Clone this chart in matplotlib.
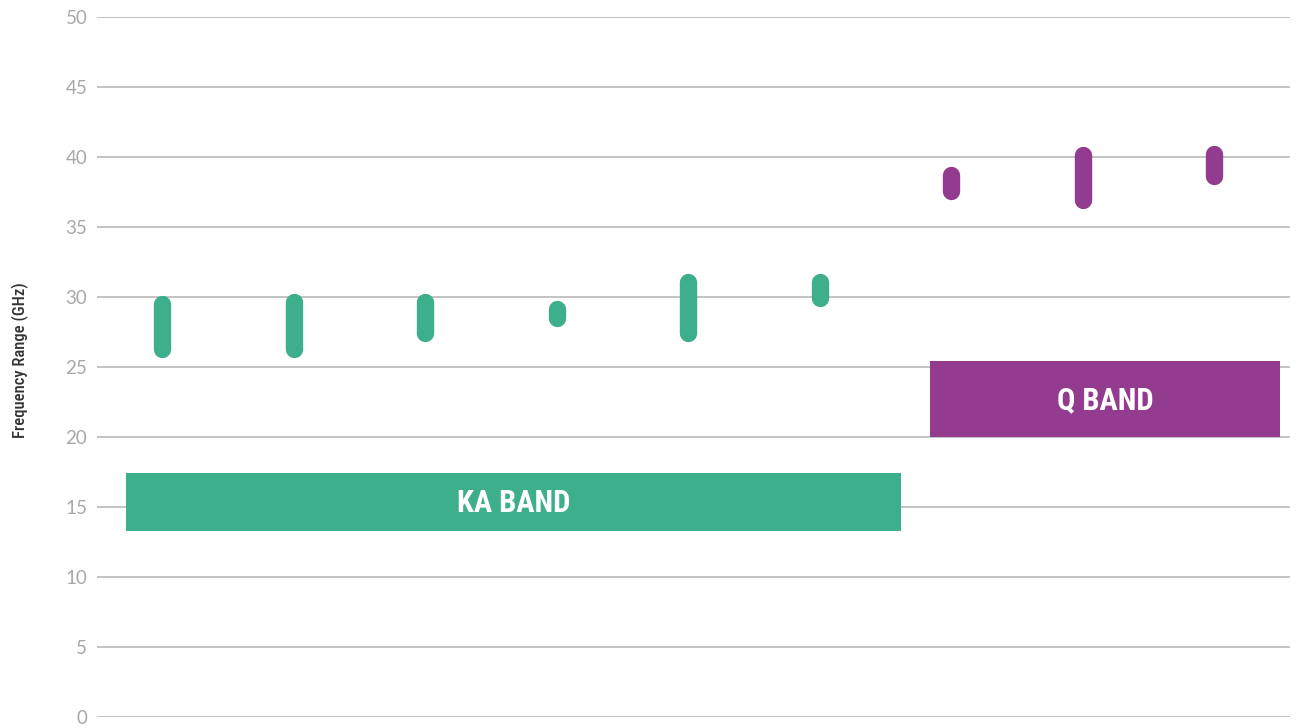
import matplotlib
matplotlib.use("Agg")
import matplotlib.pyplot as plt
from matplotlib.patches import Rectangle

# frequency ranges (GHz) of each item, drawn as rounded bars
ka_low = [26.3, 26.3, 27.4, 28.5, 27.4, 29.9]
ka_high = [29.5, 29.6, 29.6, 29.1, 31.05, 31.05]
q_low = [37.55, 36.9, 38.6]
q_high = [38.7, 40.1, 40.2]

# band boxes: x span (category units), y span (GHz)
ka_box_x = [-0.27, 5.62]
ka_box_y = [13.3, 17.4]
q_box_x = [5.84, 8.5]
q_box_y = [20.0, 25.4]

yticks = [0, 5, 10, 15, 20, 25, 30, 35, 40, 45, 50]

green = "#3daf8c"
purple = "#923b8f"
grid_c = "#b3b3b3"
narrow = ["Roboto Condensed", "DejaVu Sans"]

fig = plt.figure(figsize=(12.99, 7.28), dpi=100)
ax = fig.add_axes([0.0747, 0.0155, 0.9184, 0.9615])

for y in yticks:
    ax.axhline(y, color=grid_c, lw=1.1, zorder=0)

ka_x = list(range(len(ka_low)))
q_x = list(range(len(ka_low), len(ka_low) + len(q_low)))
ax.vlines(ka_x, ka_low, ka_high, color=green, lw=12.5, capstyle="round", zorder=3)
ax.vlines(q_x, q_low, q_high, color=purple, lw=12.5, capstyle="round", zorder=3)

for bx, by, col, name in [(ka_box_x, ka_box_y, green, "KA BAND"),
                          (q_box_x, q_box_y, purple, "Q BAND")]:
    ax.add_patch(Rectangle((bx[0], by[0]), bx[1] - bx[0], by[1] - by[0],
                           color=col, lw=0, zorder=2))
    ax.text((bx[0] + bx[1]) / 2, (by[0] + by[1]) / 2 - 0.1, name, color="white",
            ha="center", va="center", fontsize=22, fontweight="semibold",
            family=narrow, fontstretch="condensed", zorder=4)

ax.set_xlim(-0.494, 8.578)
ax.set_ylim(0, 50)
ax.set_yticks(yticks)
ax.set_xticks([])
ax.tick_params(axis="y", length=0, pad=7, labelsize=13.5, labelcolor="#a8a8a8")
for lab in ax.get_yticklabels():
    lab.set_family(["Lato", "DejaVu Sans"])
for s in ax.spines.values():
    s.set_visible(False)
ax.set_facecolor("none")

fig.text(0.0155, 0.505, "Frequency Range (GHz)", rotation=90, ha="center", va="center",
         fontsize=12, fontweight="medium", color="#333333", family=narrow,
         fontstretch="condensed")

fig.savefig("out.png", dpi=100)
